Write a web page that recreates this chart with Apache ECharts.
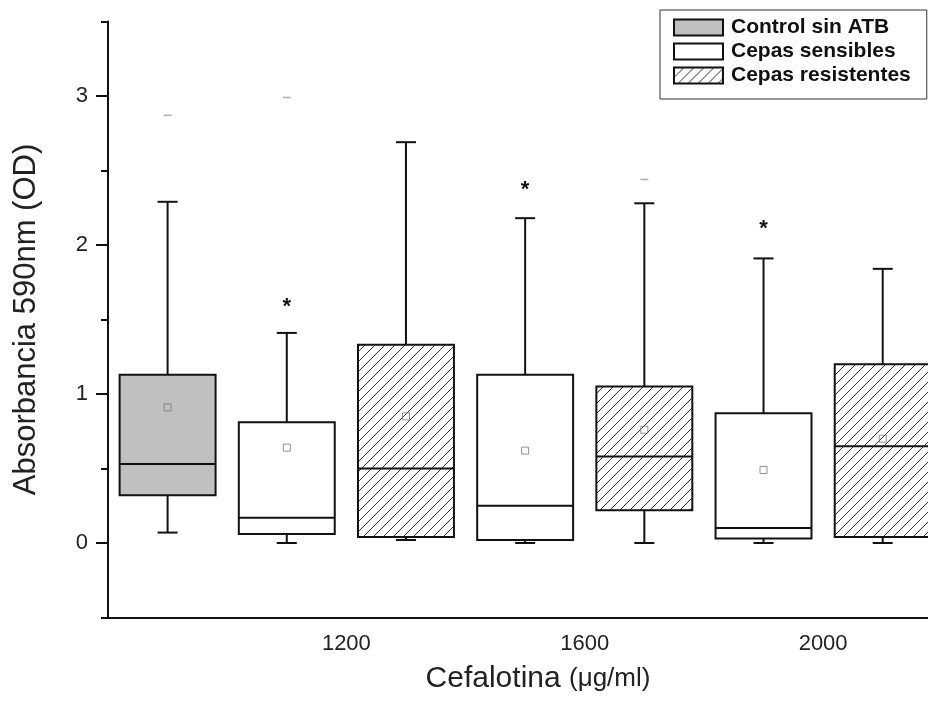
<!DOCTYPE html>
<html>
<head>
<meta charset="utf-8">
<title>Absorbancia vs Cefalotina</title>
<script src="https://cdn.jsdelivr.net/npm/echarts@6/dist/echarts.min.js"></script>
<style>
  html, body { margin: 0; padding: 0; background: #fff; }
  #chart { width: 928px; height: 706px; }
</style>
</head>
<body>
<div id="chart"></div>
<script>
// datos
const groupNames = ['Control sin ATB', 'Cepas sensibles', 'Cepas resistentes'];
const boxSlot = [1, 2, 3, 4, 5, 6, 7];
const boxGroup = [0, 1, 2, 1, 2, 1, 2];
const whiskerLow = [0.07, 0.00, 0.02, 0.00, 0.00, 0.00, 0.00];
const q1 = [0.32, 0.06, 0.04, 0.02, 0.22, 0.03, 0.04];
const median = [0.53, 0.17, 0.50, 0.25, 0.58, 0.10, 0.65];
const q3 = [1.13, 0.81, 1.33, 1.13, 1.05, 0.87, 1.20];
const whiskerHigh = [2.29, 1.41, 2.69, 2.18, 2.28, 1.91, 1.84];
const means = [0.91, 0.64, 0.85, 0.62, 0.76, 0.49, 0.70];
const maxDash = [[1, 2.87], [2, 2.99], [5, 2.44]];   // máximos (guion gris)
const starOutliers = [[2, 1.62], [4, 2.40], [6, 2.14]]; // valores atípicos (*)
const xTickPos = [2.5, 4.5, 6.5];
const xTickLabels = ['1200', '1600', '2000'];
const yMajorTicks = [0, 1, 2, 3];
const yMinorTicks = [-0.5, 0.5, 1.5, 2.5, 3.5];

// trama diagonal para las cepas resistentes
function hatchPattern() {
  const c = document.createElement('canvas');
  c.width = 10;
  c.height = 10;
  const ctx = c.getContext('2d');
  ctx.fillStyle = '#fff';
  ctx.fillRect(0, 0, 10, 10);
  ctx.strokeStyle = '#333';
  ctx.lineWidth = 1;
  ctx.beginPath();
  ctx.moveTo(0, 10); ctx.lineTo(10, 0);
  ctx.moveTo(-2, 2); ctx.lineTo(2, -2);
  ctx.moveTo(8, 12); ctx.lineTo(12, 8);
  ctx.stroke();
  return { image: c, repeat: 'repeat' };
}

const fills = ['#c0c0c0', '#ffffff', hatchPattern()];

function makeRender(fill) {
  return function (params, api) {
    const x = api.value(0);
    const lo = api.coord([x, api.value(1)]);
    const b1 = api.coord([x, api.value(2)]);
    const md = api.coord([x, api.value(3)]);
    const b3 = api.coord([x, api.value(4)]);
    const hi = api.coord([x, api.value(5)]);
    const w = api.size([0.805, 0])[0];
    const cx = lo[0];
    const cap = 10;
    const ln = { stroke: '#111', lineWidth: 2 };
    return {
      type: 'group',
      children: [
        { type: 'line', shape: { x1: cx, y1: b3[1], x2: cx, y2: hi[1] }, style: ln },
        { type: 'line', shape: { x1: cx - cap, y1: hi[1], x2: cx + cap, y2: hi[1] }, style: ln },
        { type: 'line', shape: { x1: cx, y1: b1[1], x2: cx, y2: lo[1] }, style: ln },
        { type: 'line', shape: { x1: cx - cap, y1: lo[1], x2: cx + cap, y2: lo[1] }, style: ln },
        {
          type: 'rect',
          shape: { x: cx - w / 2, y: b3[1], width: w, height: b1[1] - b3[1] },
          style: { fill: fill, stroke: '#111', lineWidth: 2 }
        },
        { type: 'line', shape: { x1: cx - w / 2, y1: md[1], x2: cx + w / 2, y2: md[1] }, style: ln }
      ]
    };
  };
}

const boxSeries = groupNames.map(function (name, g) {
  const data = [];
  boxSlot.forEach(function (s, i) {
    if (boxGroup[i] === g) {
      data.push([s, whiskerLow[i], q1[i], median[i], q3[i], whiskerHigh[i]]);
    }
  });
  return {
    name: name,
    type: 'custom',
    renderItem: makeRender(fills[g]),
    itemStyle: { color: fills[g], borderColor: '#111', borderWidth: 2 },
    encode: { x: 0, y: [1, 5] },
    data: data
  };
});

const chart = echarts.init(document.getElementById('chart'));

const option = {
  animation: false,
  backgroundColor: '#fff',
  textStyle: { fontFamily: 'Liberation Sans, Arial, sans-serif' },
  grid: { left: 108, right: 0, top: 21.5, bottom: 88.5 },
  legend: {
    data: groupNames,
    orient: 'vertical',
    left: 660,
    top: 10,
    padding: [7, 16, 13, 13],
    itemGap: 3,
    itemWidth: 49,
    itemHeight: 16,
    icon: 'rect',
    borderColor: '#333',
    borderWidth: 1,
    backgroundColor: '#fff',
    selectedMode: false,
    textStyle: { fontSize: 21, fontWeight: 'bold', color: '#111', padding: [0, 0, 0, 3] }
  },
  xAxis: {
    type: 'value',
    min: 0.5,
    max: 7.38,
    splitLine: { show: false },
    axisLine: { onZero: false, lineStyle: { color: '#111', width: 2 } },
    axisTick: { show: false },
    axisLabel: {
      customValues: xTickPos,
      formatter: function (v) {
        const i = xTickPos.indexOf(v);
        return i >= 0 ? xTickLabels[i] : '';
      },
      fontSize: 22,
      color: '#222',
      margin: 15
    },
    name: '{a|Cefalotina} {b|(μg/ml)}',
    nameLocation: 'middle',
    nameGap: 46,
    nameTextStyle: {
      padding: [0, 0, 0, 40],
      rich: {
        a: { fontSize: 30, color: '#222' },
        b: { fontSize: 26, color: '#222', padding: [0, 0, 0, 5] }
      }
    }
  },
  yAxis: [
    {
      type: 'value',
      min: -0.5,
      max: 3.5,
      interval: 0.5,
      splitLine: { show: false },
      axisLine: { show: true, onZero: false, lineStyle: { color: '#111', width: 2 } },
      axisTick: { show: true, customValues: yMajorTicks, length: 12, lineStyle: { color: '#111', width: 2 } },
      axisLabel: { customValues: yMajorTicks, fontSize: 22, color: '#222', margin: 20 },
      name: 'Absorbancia 590nm (OD)',
      nameLocation: 'middle',
      nameGap: 66,
      nameTextStyle: { fontSize: 31, color: '#222' }
    },
    {
      type: 'value',
      min: -0.5,
      max: 3.5,
      interval: 0.5,
      position: 'left',
      splitLine: { show: false },
      axisLine: { show: false, onZero: false },
      axisTick: { show: true, customValues: yMinorTicks, length: 7, lineStyle: { color: '#111', width: 2 } },
      axisLabel: { show: false }
    }
  ],
  series: boxSeries.concat([
    {
      name: 'Media',
      type: 'scatter',
      symbol: 'rect',
      symbolSize: 7,
      itemStyle: { color: 'rgba(0,0,0,0)', borderColor: '#777', borderWidth: 1 },
      data: boxSlot.map(function (s, i) { return [s, means[i]]; }),
      z: 5
    },
    {
      name: 'Máximo',
      type: 'scatter',
      symbol: 'rect',
      symbolSize: [8, 1.5],
      itemStyle: { color: '#999' },
      data: maxDash,
      z: 5
    },
    {
      name: 'Atípicos',
      type: 'custom',
      renderItem: function (params, api) {
        const p = api.coord([api.value(0), api.value(1)]);
        return {
          type: 'text',
          x: p[0],
          y: p[1] + 5,
          style: {
            text: '*',
            fontSize: 22,
            fontWeight: 'bold',
            fill: '#111',
            align: 'center',
            verticalAlign: 'middle',
            fontFamily: 'Liberation Sans, Arial, sans-serif'
          }
        };
      },
      data: starOutliers,
      z: 5
    }
  ])
};

chart.setOption(option);
</script>
</body>
</html>
